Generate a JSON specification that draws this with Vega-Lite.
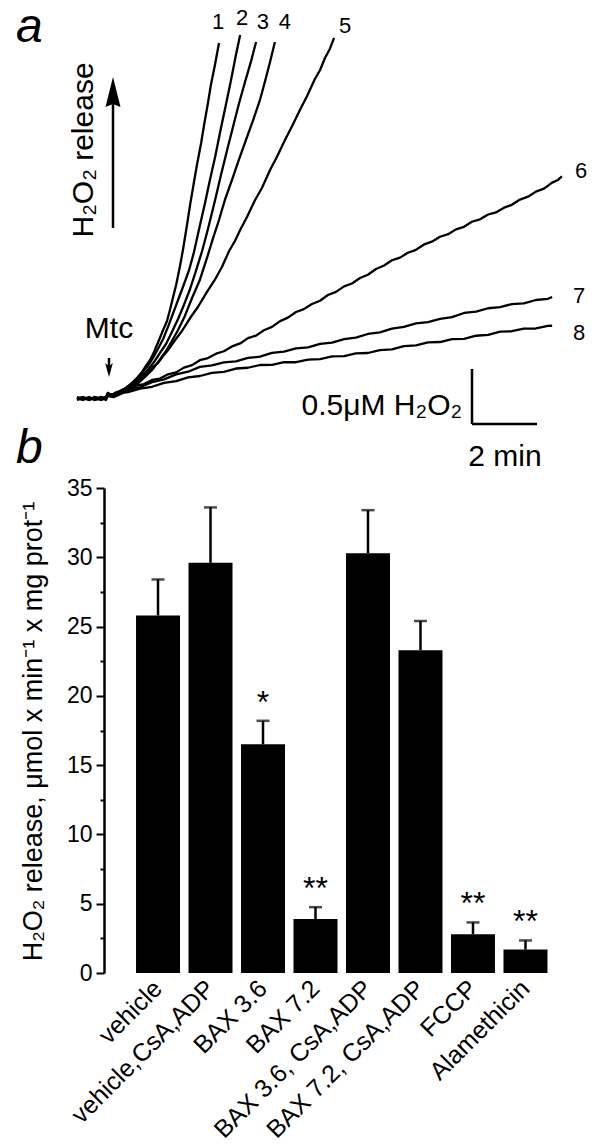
{
  "$schema": "https://vega.github.io/schema/vega-lite/v6.json",
  "width": 475.5,
  "height": 973,
  "autosize": {"type": "none"},
  "padding": {"left": 104, "top": 0, "right": 22.5, "bottom": 175},
  "background": "white",
  "config": {"view": {"stroke": null}, "font": "Liberation Sans", "text": {"font": "Liberation Sans", "color": "black"}},
  "datasets": {
    "bars": [
      {"cond": "vehicle", "v": 25.8, "err": 28.4, "sig": ""},
      {"cond": "vehicle,CsA,ADP", "v": 29.6, "err": 33.6, "sig": ""},
      {"cond": "BAX 3.6", "v": 16.5, "err": 18.2, "sig": "*"},
      {"cond": "BAX 7.2", "v": 3.9, "err": 4.75, "sig": "**"},
      {"cond": "BAX 3.6, CsA,ADP", "v": 30.3, "err": 33.4, "sig": ""},
      {"cond": "BAX 7.2, CsA,ADP", "v": 23.3, "err": 25.4, "sig": ""},
      {"cond": "FCCP", "v": 2.8, "err": 3.65, "sig": "**"},
      {"cond": "Alamethicin", "v": 1.7, "err": 2.35, "sig": "**"}
    ],
    "traces": [
      {"s":"1","t":0,"c":0},{"s":"1","t":0.18,"c":0.018},{"s":"1","t":0.37,"c":-0.009},{"s":"1","t":0.55,"c":0.009},{"s":"1","t":0.74,"c":-0.009},{"s":"1","t":0.89,"c":0.018},{"s":"1","t":0.95,"c":0.055},{"s":"1","t":1.05,"c":0.027},{"s":"1","t":1.17,"c":0.055},{"s":"1","t":1.32,"c":0.073},{"s":"1","t":1.51,"c":0.1},{"s":"1","t":1.69,"c":0.145},{"s":"1","t":1.85,"c":0.191},{"s":"1","t":2.0,"c":0.245},{"s":"1","t":2.12,"c":0.3},{"s":"1","t":2.25,"c":0.355},{"s":"1","t":2.37,"c":0.427},{"s":"1","t":2.46,"c":0.491},{"s":"1","t":2.55,"c":0.555},{"s":"1","t":2.65,"c":0.627},{"s":"1","t":2.77,"c":0.709},{"s":"1","t":2.86,"c":0.809},{"s":"1","t":2.95,"c":0.918},{"s":"1","t":3.05,"c":1.036},{"s":"1","t":3.17,"c":1.209},{"s":"1","t":3.26,"c":1.355},{"s":"1","t":3.38,"c":1.573},{"s":"1","t":3.48,"c":1.764},{"s":"1","t":3.6,"c":1.973},{"s":"1","t":3.69,"c":2.127},{"s":"1","t":3.82,"c":2.327},{"s":"1","t":3.91,"c":2.491},{"s":"1","t":4.03,"c":2.691},{"s":"1","t":4.12,"c":2.855},{"s":"1","t":4.25,"c":3.045},{"s":"1","t":4.37,"c":3.236},
      {"s":"2","t":0,"c":0.009},{"s":"2","t":0.18,"c":-0.009},{"s":"2","t":0.37,"c":0.009},{"s":"2","t":0.55,"c":0},{"s":"2","t":0.74,"c":0.018},{"s":"2","t":0.89,"c":0},{"s":"2","t":0.95,"c":0.045},{"s":"2","t":1.08,"c":0.027},{"s":"2","t":1.26,"c":0.064},{"s":"2","t":1.45,"c":0.091},{"s":"2","t":1.63,"c":0.127},{"s":"2","t":1.82,"c":0.182},{"s":"2","t":2.0,"c":0.236},{"s":"2","t":2.18,"c":0.3},{"s":"2","t":2.34,"c":0.373},{"s":"2","t":2.49,"c":0.455},{"s":"2","t":2.65,"c":0.545},{"s":"2","t":2.8,"c":0.655},{"s":"2","t":2.95,"c":0.773},{"s":"2","t":3.11,"c":0.9},{"s":"2","t":3.26,"c":1.018},{"s":"2","t":3.45,"c":1.173},{"s":"2","t":3.6,"c":1.336},{"s":"2","t":3.75,"c":1.536},{"s":"2","t":3.94,"c":1.782},{"s":"2","t":4.09,"c":1.991},{"s":"2","t":4.25,"c":2.2},{"s":"2","t":4.43,"c":2.464},{"s":"2","t":4.58,"c":2.673},{"s":"2","t":4.74,"c":2.9},{"s":"2","t":4.89,"c":3.127},{"s":"2","t":5.02,"c":3.309},
      {"s":"3","t":0,"c":-0.009},{"s":"3","t":0.18,"c":0.009},{"s":"3","t":0.37,"c":0},{"s":"3","t":0.55,"c":0.018},{"s":"3","t":0.74,"c":0},{"s":"3","t":0.89,"c":0.009},{"s":"3","t":0.95,"c":0.036},{"s":"3","t":1.11,"c":0.018},{"s":"3","t":1.32,"c":0.055},{"s":"3","t":1.54,"c":0.091},{"s":"3","t":1.75,"c":0.145},{"s":"3","t":1.97,"c":0.2},{"s":"3","t":2.18,"c":0.264},{"s":"3","t":2.37,"c":0.336},{"s":"3","t":2.55,"c":0.418},{"s":"3","t":2.74,"c":0.5},{"s":"3","t":2.92,"c":0.609},{"s":"3","t":3.11,"c":0.727},{"s":"3","t":3.29,"c":0.855},{"s":"3","t":3.48,"c":1.0},{"s":"3","t":3.66,"c":1.164},{"s":"3","t":3.85,"c":1.345},{"s":"3","t":4.03,"c":1.545},{"s":"3","t":4.25,"c":1.809},{"s":"3","t":4.43,"c":2.036},{"s":"3","t":4.62,"c":2.264},{"s":"3","t":4.8,"c":2.473},{"s":"3","t":4.98,"c":2.682},{"s":"3","t":5.17,"c":2.882},{"s":"3","t":5.35,"c":3.064},{"s":"3","t":5.51,"c":3.245},
      {"s":"4","t":0,"c":0},{"s":"4","t":0.18,"c":0},{"s":"4","t":0.37,"c":0.018},{"s":"4","t":0.55,"c":-0.009},{"s":"4","t":0.74,"c":0.009},{"s":"4","t":0.89,"c":-0.009},{"s":"4","t":0.95,"c":0.027},{"s":"4","t":1.14,"c":0.018},{"s":"4","t":1.35,"c":0.045},{"s":"4","t":1.57,"c":0.082},{"s":"4","t":1.82,"c":0.127},{"s":"4","t":2.06,"c":0.191},{"s":"4","t":2.31,"c":0.264},{"s":"4","t":2.52,"c":0.345},{"s":"4","t":2.74,"c":0.436},{"s":"4","t":2.92,"c":0.527},{"s":"4","t":3.11,"c":0.627},{"s":"4","t":3.32,"c":0.755},{"s":"4","t":3.54,"c":0.918},{"s":"4","t":3.78,"c":1.082},{"s":"4","t":4.0,"c":1.282},{"s":"4","t":4.18,"c":1.455},{"s":"4","t":4.37,"c":1.627},{"s":"4","t":4.55,"c":1.809},{"s":"4","t":4.77,"c":1.991},{"s":"4","t":4.98,"c":2.173},{"s":"4","t":5.2,"c":2.355},{"s":"4","t":5.42,"c":2.536},{"s":"4","t":5.63,"c":2.718},{"s":"4","t":5.78,"c":2.882},{"s":"4","t":5.94,"c":3.064},{"s":"4","t":6.09,"c":3.245},
      {"s":"5","t":0,"c":0.009},{"s":"5","t":0.18,"c":0},{"s":"5","t":0.37,"c":0.009},{"s":"5","t":0.55,"c":0},{"s":"5","t":0.74,"c":0.018},{"s":"5","t":0.89,"c":0},{"s":"5","t":0.95,"c":0.045},{"s":"5","t":1.14,"c":0.027},{"s":"5","t":1.32,"c":0.064},{"s":"5","t":1.51,"c":0.082},{"s":"5","t":1.69,"c":0.118},{"s":"5","t":1.88,"c":0.155},{"s":"5","t":2.03,"c":0.2},{"s":"5","t":2.18,"c":0.236},{"s":"5","t":2.34,"c":0.291},{"s":"5","t":2.49,"c":0.327},{"s":"5","t":2.65,"c":0.391},{"s":"5","t":2.83,"c":0.455},{"s":"5","t":3.02,"c":0.536},{"s":"5","t":3.23,"c":0.618},{"s":"5","t":3.48,"c":0.736},{"s":"5","t":3.72,"c":0.836},{"s":"5","t":4.0,"c":0.973},{"s":"5","t":4.22,"c":1.073},{"s":"5","t":4.46,"c":1.2},{"s":"5","t":4.68,"c":1.345},{"s":"5","t":4.86,"c":1.436},{"s":"5","t":5.02,"c":1.536},{"s":"5","t":5.23,"c":1.655},{"s":"5","t":5.48,"c":1.809},{"s":"5","t":5.69,"c":1.918},{"s":"5","t":5.94,"c":2.082},{"s":"5","t":6.15,"c":2.2},{"s":"5","t":6.4,"c":2.355},{"s":"5","t":6.62,"c":2.482},{"s":"5","t":6.86,"c":2.627},{"s":"5","t":7.08,"c":2.755},{"s":"5","t":7.32,"c":2.909},{"s":"5","t":7.48,"c":2.991},{"s":"5","t":7.63,"c":3.1},{"s":"5","t":7.78,"c":3.182},{"s":"5","t":7.91,"c":3.282},
      {"s":"6","t":0,"c":0},{"s":"6","t":0.18,"c":0.018},{"s":"6","t":0.37,"c":0},{"s":"6","t":0.55,"c":0.009},{"s":"6","t":0.74,"c":-0.009},{"s":"6","t":0.89,"c":0.009},{"s":"6","t":0.95,"c":0.055},{"s":"6","t":1.11,"c":0.027},{"s":"6","t":1.32,"c":0.064},{"s":"6","t":1.57,"c":0.084},{"s":"6","t":1.82,"c":0.121},{"s":"6","t":2.06,"c":0.136},{"s":"6","t":2.31,"c":0.173},{"s":"6","t":2.55,"c":0.185},{"s":"6","t":2.8,"c":0.224},{"s":"6","t":3.05,"c":0.242},{"s":"6","t":3.29,"c":0.285},{"s":"6","t":3.54,"c":0.308},{"s":"6","t":3.78,"c":0.353},{"s":"6","t":4.03,"c":0.372},{"s":"6","t":4.28,"c":0.412},{"s":"6","t":4.52,"c":0.434},{"s":"6","t":4.77,"c":0.478},{"s":"6","t":5.02,"c":0.505},{"s":"6","t":5.26,"c":0.553},{"s":"6","t":5.51,"c":0.576},{"s":"6","t":5.75,"c":0.625},{"s":"6","t":6.0,"c":0.655},{"s":"6","t":6.25,"c":0.708},{"s":"6","t":6.49,"c":0.74},{"s":"6","t":6.74,"c":0.791},{"s":"6","t":6.98,"c":0.817},{"s":"6","t":7.23,"c":0.864},{"s":"6","t":7.48,"c":0.893},{"s":"6","t":7.72,"c":0.945},{"s":"6","t":7.97,"c":0.974},{"s":"6","t":8.22,"c":1.024},{"s":"6","t":8.46,"c":1.05},{"s":"6","t":8.71,"c":1.1},{"s":"6","t":8.95,"c":1.129},{"s":"6","t":9.2,"c":1.182},{"s":"6","t":9.45,"c":1.213},{"s":"6","t":9.69,"c":1.261},{"s":"6","t":9.94,"c":1.285},{"s":"6","t":10.18,"c":1.329},{"s":"6","t":10.43,"c":1.356},{"s":"6","t":10.68,"c":1.405},{"s":"6","t":10.92,"c":1.43},{"s":"6","t":11.17,"c":1.475},{"s":"6","t":11.42,"c":1.498},{"s":"6","t":11.66,"c":1.542},{"s":"6","t":11.91,"c":1.565},{"s":"6","t":12.15,"c":1.611},{"s":"6","t":12.4,"c":1.633},{"s":"6","t":12.65,"c":1.677},{"s":"6","t":12.89,"c":1.696},{"s":"6","t":13.14,"c":1.739},{"s":"6","t":13.38,"c":1.765},{"s":"6","t":13.63,"c":1.813},{"s":"6","t":13.88,"c":1.839},{"s":"6","t":14.12,"c":1.885},{"s":"6","t":14.37,"c":1.912},{"s":"6","t":14.62,"c":1.967},{"s":"6","t":14.8,"c":1.991},{"s":"6","t":14.92,"c":2.023},
      {"s":"7","t":0,"c":0.018},{"s":"7","t":0.18,"c":0},{"s":"7","t":0.37,"c":0.009},{"s":"7","t":0.55,"c":-0.009},{"s":"7","t":0.74,"c":0.009},{"s":"7","t":0.89,"c":0.018},{"s":"7","t":0.95,"c":0.045},{"s":"7","t":1.2,"c":0.043},{"s":"7","t":1.57,"c":0.083},{"s":"7","t":1.94,"c":0.108},{"s":"7","t":2.31,"c":0.153},{"s":"7","t":2.68,"c":0.178},{"s":"7","t":3.05,"c":0.224},{"s":"7","t":3.42,"c":0.248},{"s":"7","t":3.78,"c":0.292},{"s":"7","t":4.15,"c":0.305},{"s":"7","t":4.52,"c":0.333},{"s":"7","t":4.89,"c":0.342},{"s":"7","t":5.26,"c":0.373},{"s":"7","t":5.63,"c":0.385},{"s":"7","t":6.0,"c":0.42},{"s":"7","t":6.37,"c":0.431},{"s":"7","t":6.74,"c":0.461},{"s":"7","t":7.11,"c":0.469},{"s":"7","t":7.48,"c":0.501},{"s":"7","t":7.85,"c":0.512},{"s":"7","t":8.22,"c":0.545},{"s":"7","t":8.58,"c":0.557},{"s":"7","t":8.95,"c":0.591},{"s":"7","t":9.32,"c":0.605},{"s":"7","t":9.69,"c":0.64},{"s":"7","t":10.06,"c":0.655},{"s":"7","t":10.43,"c":0.688},{"s":"7","t":10.8,"c":0.698},{"s":"7","t":11.17,"c":0.729},{"s":"7","t":11.54,"c":0.745},{"s":"7","t":11.91,"c":0.782},{"s":"7","t":12.28,"c":0.795},{"s":"7","t":12.65,"c":0.825},{"s":"7","t":13.02,"c":0.835},{"s":"7","t":13.38,"c":0.863},{"s":"7","t":13.75,"c":0.869},{"s":"7","t":14.12,"c":0.9},{"s":"7","t":14.49,"c":0.911},{"s":"7","t":14.62,"c":0.927},
      {"s":"8","t":0,"c":0.009},{"s":"8","t":0.18,"c":0.009},{"s":"8","t":0.37,"c":-0.009},{"s":"8","t":0.55,"c":0.018},{"s":"8","t":0.74,"c":0},{"s":"8","t":0.89,"c":0.009},{"s":"8","t":0.95,"c":0.036},{"s":"8","t":1.2,"c":0.048},{"s":"8","t":1.57,"c":0.062},{"s":"8","t":1.94,"c":0.095},{"s":"8","t":2.31,"c":0.111},{"s":"8","t":2.68,"c":0.147},{"s":"8","t":3.05,"c":0.163},{"s":"8","t":3.42,"c":0.197},{"s":"8","t":3.78,"c":0.209},{"s":"8","t":4.15,"c":0.237},{"s":"8","t":4.52,"c":0.246},{"s":"8","t":4.89,"c":0.277},{"s":"8","t":5.26,"c":0.284},{"s":"8","t":5.63,"c":0.309},{"s":"8","t":6.0,"c":0.311},{"s":"8","t":6.37,"c":0.334},{"s":"8","t":6.74,"c":0.334},{"s":"8","t":7.11,"c":0.357},{"s":"8","t":7.48,"c":0.362},{"s":"8","t":7.85,"c":0.387},{"s":"8","t":8.22,"c":0.39},{"s":"8","t":8.58,"c":0.415},{"s":"8","t":8.95,"c":0.418},{"s":"8","t":9.32,"c":0.445},{"s":"8","t":9.69,"c":0.451},{"s":"8","t":10.06,"c":0.481},{"s":"8","t":10.43,"c":0.488},{"s":"8","t":10.8,"c":0.514},{"s":"8","t":11.17,"c":0.518},{"s":"8","t":11.54,"c":0.544},{"s":"8","t":11.91,"c":0.547},{"s":"8","t":12.28,"c":0.575},{"s":"8","t":12.65,"c":0.582},{"s":"8","t":13.02,"c":0.612},{"s":"8","t":13.38,"c":0.616},{"s":"8","t":13.75,"c":0.64},{"s":"8","t":14.12,"c":0.641},{"s":"8","t":14.49,"c":0.665},{"s":"8","t":14.62,"c":0.666}
    ],
    "notes": [
      {"text": "a", "t": -1.88, "c": 3.245, "kind": "panel"},
      {"text": "b", "t": -1.88, "c": -0.582, "kind": "panel"},
      {"text": "1", "t": 4.34, "c": 3.364, "kind": "num"},
      {"text": "2", "t": 5.08, "c": 3.4, "kind": "num"},
      {"text": "3", "t": 5.72, "c": 3.364, "kind": "num"},
      {"text": "4", "t": 6.4, "c": 3.364, "kind": "num"},
      {"text": "5", "t": 8.25, "c": 3.327, "kind": "num"},
      {"text": "6", "t": 15.51, "c": 2.009, "kind": "num"},
      {"text": "7", "t": 15.45, "c": 0.873, "kind": "num"},
      {"text": "8", "t": 15.45, "c": 0.536, "kind": "num"},
      {"text": "Mtc", "t": 0.985, "c": 0.555, "kind": "big"},
      {"text": "2 min", "t": 13.17, "c": -0.609, "kind": "big"},
      {"text": "0.5μM H₂O₂", "t": 11.85, "c": -0.145, "kind": "bigR"},
      {"text": "H₂O₂ release", "t": 0.49, "c": 2.264, "kind": "vert"}
    ],
    "segs": [
      {"t": 1.108, "c": 1.555, "t2": 1.108, "c2": 2.72},
      {"t": 0.985, "c": 0.373, "t2": 0.985, "c2": 0.245},
      {"t": 12.154, "c": 0.273, "t2": 12.154, "c2": -0.227},
      {"t": 12.154, "c": -0.227, "t2": 14.154, "c2": -0.227}
    ],
    "heads": [
      {"t": 1.108, "c": 2.791, "dir": "up"},
      {"t": 0.985, "c": 0.264, "dir": "down"}
    ]
  },
  "layer": [
    {
      "data": {"name": "bars"},
      "encoding": {
        "x": {
          "field": "cond", "type": "nominal", "sort": null,
          "scale": {"paddingInner": 0.162, "paddingOuter": 0.61},
          "axis": {"title": null, "domain": false, "ticks": false, "labelAngle": -45, "labelAlign": "right", "labelBaseline": "middle", "labelFontSize": 25, "labelColor": "black", "labelPadding": 11, "labelLimit": 400, "labelFont": "Liberation Sans"}
        },
        "y": {
          "field": "v", "type": "quantitative",
          "scale": {"domain": [0, 35], "range": [973, 488], "nice": false},
          "title": "H₂O₂ release, μmol x min⁻¹ x mg prot⁻¹",
          "axis": {
            "values": [0, 2.5, 5, 7.5, 10, 12.5, 15, 17.5, 20, 22.5, 25, 27.5, 30, 32.5, 35],
            "labelExpr": "datum.value % 5 === 0 ? datum.label : ''",
            "tickSize": {"condition": {"test": "datum.value % 5 !== 0", "value": 4}, "value": 8},
            "tickWidth": 2, "tickColor": "black", "domainColor": "black", "domainWidth": 2.5,
            "labelFontSize": 23, "labelColor": "black", "labelPadding": 4, "labelOverlap": false, "labelFont": "Liberation Sans",
            "grid": false,
            "titleFontSize": 27, "titleFontWeight": "normal", "titleColor": "black", "titleFont": "Liberation Sans",
            "titleX": -63, "titleY": 731, "titleAngle": -90, "titleAlign": "center", "titleBaseline": "alphabetic"
          }
        }
      },
      "layer": [
        {"mark": {"type": "bar", "color": "black"}},
        {"mark": {"type": "rule", "color": "black", "strokeWidth": 2.5}, "encoding": {"y2": {"field": "err"}}},
        {"mark": {"type": "tick", "color": "black", "thickness": 2.5, "size": 13},
         "encoding": {"y": {"field": "err", "type": "quantitative", "scale": {"domain": [0, 35], "range": [973, 488], "nice": false}, "title": "H₂O₂ release, μmol x min⁻¹ x mg prot⁻¹"}}},
        {"mark": {"type": "text", "fontSize": 32, "dy": -8, "baseline": "alphabetic", "align": "center", "color": "black"},
         "encoding": {"y": {"field": "err", "type": "quantitative", "scale": {"domain": [0, 35], "range": [973, 488], "nice": false}, "title": "H₂O₂ release, μmol x min⁻¹ x mg prot⁻¹"}, "text": {"field": "sig"}}}
      ]
    },
    {
      "encoding": {
        "x": {"field": "t", "type": "quantitative", "scale": {"domain": [0.831, 15.462], "nice": false, "zero": false}, "axis": null},
        "y": {"field": "c", "type": "quantitative", "scale": {"domain": [-5.218, 3.627], "nice": false, "zero": false}, "axis": null}
      },
      "layer": [
        {"data": {"name": "traces"}, "mark": {"type": "line", "color": "black", "strokeWidth": 2.3, "strokeJoin": "round"}, "encoding": {"detail": {"field": "s", "type": "nominal"}}},
        {"data": {"name": "segs"}, "mark": {"type": "rule", "color": "black", "strokeWidth": 2.5}, "encoding": {"x2": {"field": "t2"}, "y2": {"field": "c2"}}},
        {"data": {"name": "heads"}, "transform": [{"filter": "datum.dir == 'up'"}], "mark": {"type": "point", "shape": "M0,-1L0.5,1L0,0.8L-0.5,1Z", "size": 900, "filled": true, "color": "black", "opacity": 1}},
        {"data": {"name": "heads"}, "transform": [{"filter": "datum.dir == 'down'"}], "mark": {"type": "point", "shape": "M0,1L-0.55,-1L0,-0.5L0.55,-1Z", "size": 196, "filled": true, "color": "black", "opacity": 1}},
        {"data": {"name": "notes"}, "transform": [{"filter": "datum.kind == 'num'"}], "mark": {"type": "text", "fontSize": 22, "align": "center", "baseline": "alphabetic", "color": "black"}, "encoding": {"text": {"field": "text"}}},
        {"data": {"name": "notes"}, "transform": [{"filter": "datum.kind == 'panel'"}], "mark": {"type": "text", "fontSize": 48, "fontStyle": "italic", "align": "left", "baseline": "alphabetic", "color": "black"}, "encoding": {"text": {"field": "text"}}},
        {"data": {"name": "notes"}, "transform": [{"filter": "datum.kind == 'big'"}], "mark": {"type": "text", "fontSize": 30, "align": "center", "baseline": "alphabetic", "color": "black"}, "encoding": {"text": {"field": "text"}}},
        {"data": {"name": "notes"}, "transform": [{"filter": "datum.kind == 'bigR'"}], "mark": {"type": "text", "fontSize": 30, "align": "right", "baseline": "alphabetic", "color": "black"}, "encoding": {"text": {"field": "text"}}},
        {"data": {"name": "notes"}, "transform": [{"filter": "datum.kind == 'vert'"}], "mark": {"type": "text", "fontSize": 30, "angle": 270, "align": "center", "baseline": "alphabetic", "color": "black"}, "encoding": {"text": {"field": "text"}}}
      ]
    }
  ],
  "resolve": {"scale": {"x": "independent", "y": "independent"}}
}
